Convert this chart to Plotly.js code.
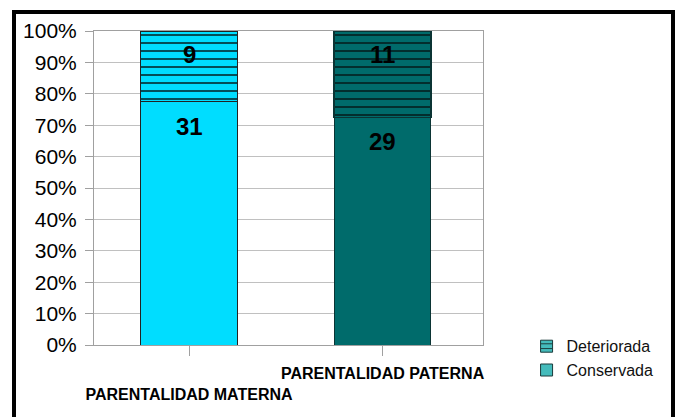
<!DOCTYPE html>
<html>
<head>
<meta charset="utf-8">
<script src="https://cdn.plot.ly/plotly-3.0.1.min.js"></script>
<style>
  html, body { margin: 0; padding: 0; background: #ffffff; }
  #chart { width: 677px; height: 417px; }
  #frame { position: absolute; left: 12px; top: 10px; width: 663px; height: 480px;
           box-sizing: border-box; border: 4px solid #000; border-bottom: none; pointer-events: none; }
</style>
</head>
<body>
<div id="chart"></div>
<div id="frame"></div>
<script>
const categories = ["PARENTALIDAD MATERNA", "PARENTALIDAD PATERNA"];
const tickLabels = ["<br>PARENTALIDAD MATERNA", "PARENTALIDAD PATERNA"];
const conservada = [31, 29];
const deteriorada = [9, 11];
const seriesNames = ["Conservada", "Deteriorada"];
const barColors = ["#00DDFF", "#006B6B"];
const hatchColor = "#041616";
const edgeColors = ["#222222", "#0B3434"];
const legendColor = "#44BBBB";

const traces = [
  {
    type: "bar", x: categories, y: conservada, name: seriesNames[0], showlegend: false,
    marker: { color: barColors, line: { color: edgeColors, width: 1 } },
    hoverinfo: "skip"
  },
  {
    type: "bar", x: categories, y: deteriorada, name: seriesNames[1], showlegend: false,
    marker: {
      color: barColors[0], line: { color: edgeColors, width: 1.5 },
      pattern: { shape: "-", size: 8, solidity: 0.18, fgcolor: hatchColor, bgcolor: barColors, fgopacity: 1 }
    },
    hoverinfo: "skip"
  },
  {
    type: "bar", x: [null], y: [null], name: seriesNames[1], showlegend: true,
    marker: { color: legendColor, line: { color: "#1a3a3a", width: 1 },
      pattern: { shape: "-", size: 6, solidity: 0.2, fgcolor: "#1a3a3a", bgcolor: legendColor } }
  },
  {
    type: "bar", x: [null], y: [null], name: seriesNames[0], showlegend: true,
    marker: { color: legendColor, line: { color: "#1a3a3a", width: 1 } }
  }
];

const annotations = [];
categories.forEach((c, i) => {
  const total = conservada[i] + deteriorada[i];
  const pct = conservada[i] / total * 100;
  annotations.push({ x: c, y: pct, xref: "x", yref: "y", text: String(conservada[i]),
    showarrow: false, yanchor: "top", yshift: -9,
    font: { family: "Arial, Liberation Sans, sans-serif", size: 24, color: "#000" } });
  annotations.push({ x: c, y: 100, xref: "x", yref: "y", text: String(deteriorada[i]),
    showarrow: false, yanchor: "top", yshift: -8,
    font: { family: "Arial, Liberation Sans, sans-serif", size: 24, color: "#000" } });
});
annotations.forEach(a => { a.text = "<b>" + a.text + "</b>"; });

const layout = {
  width: 677, height: 417,
  margin: { l: 94, r: 194, t: 31, b: 72 },
  paper_bgcolor: "#ffffff", plot_bgcolor: "#ffffff",
  barmode: "stack", barnorm: "percent", bargap: 0.5,
  font: { family: "Arial, Liberation Sans, sans-serif", color: "#000" },
  xaxis: {
    type: "category", range: [-0.491, 1.519],
    tickvals: categories, ticktext: tickLabels, tickangle: 0,
    ticks: "outside", ticklen: 10, tickcolor: "#a0a0a0", tickwidth: 1, ticklabelstandoff: 4,
    tickfont: { size: 16, family: "Arial, Liberation Sans, sans-serif", color: "#000", weight: "bold" },
    showline: true, linecolor: "#a0a0a0", linewidth: 1, mirror: true,
    showgrid: false, fixedrange: true
  },
  yaxis: {
    range: [0, 100], dtick: 10, ticksuffix: "%",
    ticks: "outside", ticklen: 8, tickcolor: "#a0a0a0", ticklabelstandoff: 4,
    tickfont: { size: 21, color: "#000" },
    showline: true, linecolor: "#a0a0a0", linewidth: 1, mirror: true,
    gridcolor: "#c0c0c0", gridwidth: 1, zeroline: false, fixedrange: true
  },
  legend: {
    x: 1.112, xanchor: "left", y: 0.05, yanchor: "top",
    traceorder: "normal", bgcolor: "rgba(0,0,0,0)",
    font: { size: 16, color: "#111" }, itemclick: false, itemdoubleclick: false
  },
  annotations: annotations
};

Plotly.newPlot("chart", traces, layout, { displayModeBar: false, staticPlot: true });
</script>
</body>
</html>
